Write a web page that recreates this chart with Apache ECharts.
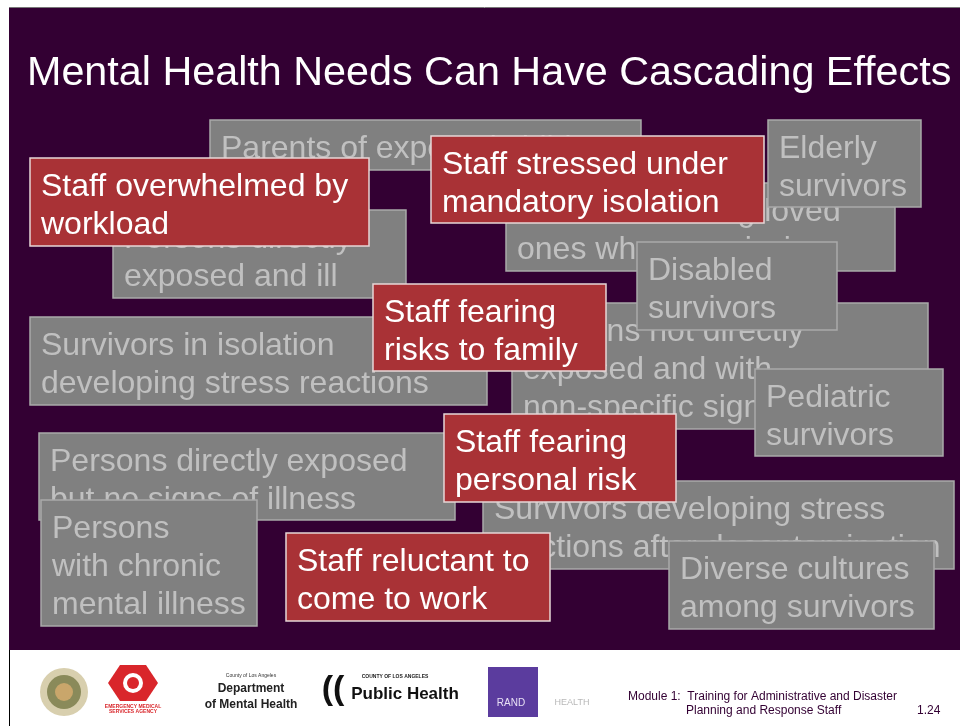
<!DOCTYPE html>
<html>
<head>
<meta charset="utf-8">
<script src="https://cdn.jsdelivr.net/npm/echarts@6/dist/echarts.min.js"></script>
<style>html,body{margin:0;padding:0;background:#fff;}#c{width:960px;height:726px;}</style>
</head>
<body>
<div id="c"></div>
<script>
// ---- content ----
var titleText = 'Mental Health Needs Can Have Cascading Effects';
var grayLabels = [
  'Parents of exposed children',
  'Persons directly\nexposed and ill',
  'Families seeking loved\nones who are missing',
  'Elderly\nsurvivors',
  'Persons not directly\nexposed and with\nnon-specific signs',
  'Disabled\nsurvivors',
  'Pediatric\nsurvivors',
  'Survivors in isolation\ndeveloping stress reactions',
  'Persons directly exposed\nbut no signs of illness',
  'Persons\nwith chronic\nmental illness',
  'Survivors developing stress\nreactions after decontamination',
  'Diverse cultures\namong survivors'
];
var redLabels = [
  'Staff overwhelmed by\nworkload',
  'Staff stressed under\nmandatory isolation',
  'Staff fearing\nrisks to family',
  'Staff fearing\npersonal risk',
  'Staff reluctant to\ncome to work'
];
var footerLines = ['Module 1:  Training for Administrative and Disaster', 'Planning and Response Staff'];
var pageNumber = '1.24';

// ---- layout (x, y, w, h) ----
var grayLayout = [
  [210,120,431,50],
  [113,210,293,88],
  [506,183,389,88],
  [768,120,153,87],
  [512,303,416,126],
  [637,242,200,88],
  [755,369,188,87],
  [30,317,457,88],
  [39,433,416,87],
  [41,500,216,126],
  [483,481,471,88],
  [669,541,265,88]
];
var redLayout = [
  [30,158,339,88],
  [431,136,333,87],
  [373,284,233,87],
  [444,414,232,88],
  [286,533,264,88]
];

var FONT = '"Liberation Sans", Arial, Helvetica, sans-serif';

function box(lay, label, fill, stroke, textColor, z) {
  return {
    type: 'group', z: z,
    children: [
      {type:'rect', shape:{x:lay[0], y:lay[1], width:lay[2], height:lay[3]},
       style:{fill:fill, stroke:stroke, lineWidth:1.5}, z: z},
      {type:'rect', shape:{x:lay[0], y:lay[1], width:lay[2], height:lay[3]},
       style:{fill:'transparent'}, z:z,
       textContent:{style:{text:label, fill:textColor, font:'32px ' + FONT, lineHeight:38.4, align:'left', verticalAlign:'top', overflow:'none'}, z:z},
       textConfig:{position:[11, 9.5], inside:true}}
    ]
  };
}

var elements = [];
elements.push({type:'rect', shape:{x:9,y:8,width:951,height:642}, style:{fill:'#330033'}, z:1});
elements.push({type:'line', shape:{x1:9,y1:7.5,x2:960,y2:7.5}, style:{stroke:'#777', lineWidth:1}, z:1});
elements.push({type:'line', shape:{x1:9.5,y1:650,x2:9.5,y2:726}, style:{stroke:'#000', lineWidth:1}, z:1});
elements.push({type:'text', x:27, y:74, style:{text:titleText, fill:'#ffffff', font:'41.3px ' + FONT, verticalAlign:'middle'}, z:2});

var zc = 10;
grayLayout.forEach(function(l, i){ elements.push(box(l, grayLabels[i], '#808080', '#a9a9a9', '#c0c0c0', zc++)); });
redLayout.forEach(function(l, i){ elements.push(box(l, redLabels[i], '#a93236', '#e6d6d6', '#ffffff', zc++)); });

// footer logos (approximations)
elements.push({type:'circle', shape:{cx:64,cy:692,r:24}, style:{fill:'#d8cfae'}, z:3});
elements.push({type:'circle', shape:{cx:64,cy:692,r:17}, style:{fill:'#8a8a5a'}, z:3});
elements.push({type:'circle', shape:{cx:64,cy:692,r:9}, style:{fill:'#c9a66b'}, z:3});
elements.push({type:'polygon', shape:{points:[[120,665],[146,665],[158,683],[146,701],[120,701],[108,683]]}, style:{fill:'#d9262b'}, z:3});
elements.push({type:'circle', shape:{cx:133,cy:683,r:10}, style:{fill:'#ffffff'}, z:3});
elements.push({type:'circle', shape:{cx:133,cy:683,r:6}, style:{fill:'#d9262b'}, z:3});
elements.push({type:'text', x:133, y:709, style:{text:'EMERGENCY MEDICAL\nSERVICES AGENCY', fill:'#d9262b', font:'bold 5px ' + FONT, align:'center', verticalAlign:'middle'}, z:3});
elements.push({type:'text', x:251, y:676, style:{text:'County of Los Angeles', fill:'#333', font:'5px ' + FONT, align:'center', verticalAlign:'middle'}, z:3});
elements.push({type:'text', x:251, y:689, style:{text:'Department', fill:'#222', font:'bold 12px ' + FONT, align:'center', verticalAlign:'middle'}, z:3});
elements.push({type:'text', x:251, y:705, style:{text:'of Mental Health', fill:'#222', font:'bold 12px ' + FONT, align:'center', verticalAlign:'middle'}, z:3});
elements.push({type:'text', x:333, y:690, style:{text:'((', fill:'#111', font:'bold 34px ' + FONT, align:'center', verticalAlign:'middle'}, z:3});
elements.push({type:'text', x:395, y:677, style:{text:'COUNTY OF LOS ANGELES', fill:'#222', font:'bold 5px ' + FONT, align:'center', verticalAlign:'middle'}, z:3});
elements.push({type:'text', x:405, y:694, style:{text:'Public Health', fill:'#111', font:'bold 17px ' + FONT, align:'center', verticalAlign:'middle'}, z:3});
elements.push({type:'rect', shape:{x:488,y:667,width:50,height:50}, style:{fill:'#5b3c9e'}, z:3});
elements.push({type:'text', x:511, y:703, style:{text:'RAND', fill:'#e8e0f5', font:'10px ' + FONT, align:'center', verticalAlign:'middle'}, z:3});
elements.push({type:'text', x:572, y:703, style:{text:'HEALTH', fill:'#b8b8b8', font:'9px ' + FONT, align:'center', verticalAlign:'middle'}, z:3});
elements.push({type:'text', x:628, y:697, style:{text:footerLines[0], fill:'#330033', font:'12px ' + FONT, verticalAlign:'middle'}, z:3});
elements.push({type:'text', x:686, y:711, style:{text:footerLines[1], fill:'#330033', font:'12px ' + FONT, verticalAlign:'middle'}, z:3});
elements.push({type:'text', x:917, y:711, style:{text:pageNumber, fill:'#330033', font:'12px ' + FONT, verticalAlign:'middle'}, z:3});

var chart = echarts.init(document.getElementById('c'), null, {renderer:'canvas'});
chart.setOption({
  backgroundColor:'#ffffff',
  animation:false,
  graphic:{elements:elements}
});
</script>
</body>
</html>
